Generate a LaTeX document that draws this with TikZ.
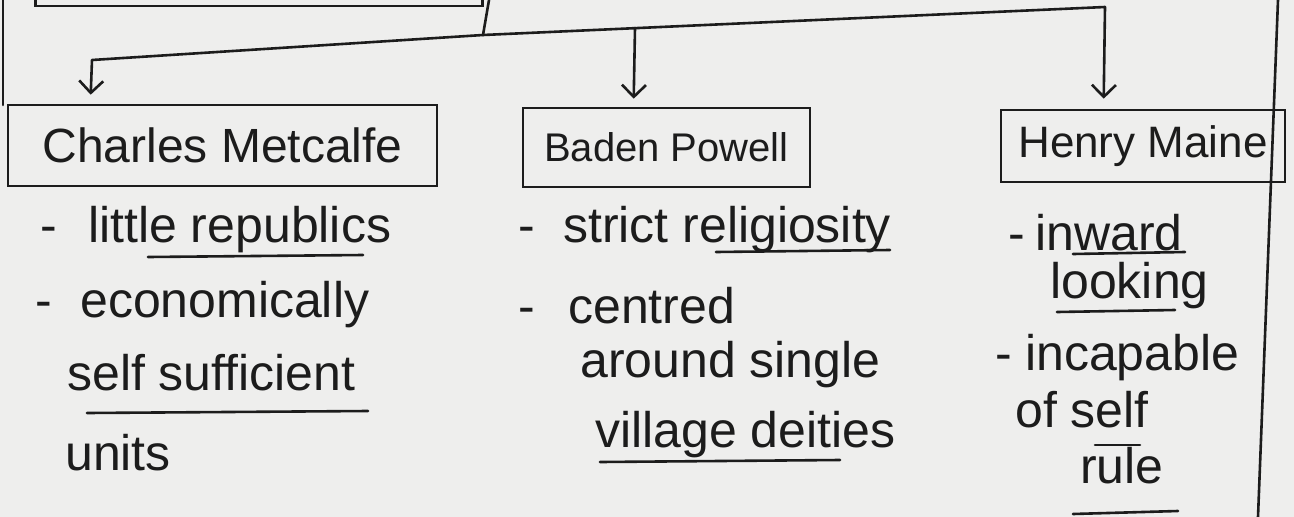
\documentclass[tikz,border=0pt]{standalone}
\usepackage{fontspec}
\setmainfont{Liberation Sans}
\usetikzlibrary{arrows.meta,calc}
\definecolor{paper}{RGB}{238,238,237}
\definecolor{ink}{RGB}{28,28,28}
\begin{document}
\begin{tikzpicture}[x=1pt,y=-1pt,
  box/.style={draw=ink, line width=2.6pt, inner sep=0pt, text=ink},
  txt/.style={anchor=base west, inner sep=0pt, text=ink, font=\fontsize{50}{60}\selectfont},
  con/.style={draw=ink, line width=2.6pt, line join=round, line cap=round},
  arr/.style={con, -{Straight Barb[length=12pt,width=24pt]}},
  uline/.style={draw=ink, line width=2.6pt, line cap=round}]
\useasboundingbox (0,0) rectangle (1294,517);
\clip (0,0) rectangle (1294,517);
\fill[paper] (0,0) rectangle (1294,517);

% page edges
\draw[con] (3,0) -- (3,105);
\draw[con] (1278,0) -- (1258,517);

% boxes
\node[box, minimum width=447pt, minimum height=100pt] (topbox) at (259,-44) {};
\node[box, minimum width=429pt, minimum height=81pt, font=\fontsize{48}{58}\selectfont] (charles) at (222.5,145.5) {Charles Metcalfe};
\node[box, minimum width=287pt, minimum height=79pt, font=\fontsize{40}{48}\selectfont] (baden) at (666.5,147.5) {Baden Powell};
\node[box, minimum width=284pt, minimum height=72pt, font=\fontsize{44}{53}\selectfont] (henry) at (1143,146) {Henry Maine};

% connectors
\coordinate (src) at (489,0);
\coordinate (j) at (483,35);
\coordinate (m) at (635,28);
\draw[con] (src) -- (j);
\draw[arr] (j) -- (92,60) -- ($(charles.north west)+(84,-9)$);
\draw[arr] (m) -- ($(baden.north west)+(112,-8)$);
\draw[arr] (j) -- (1105,7) -- ($(henry.north west)+(104,-10)$);

% Charles Metcalfe
\node[txt] (c1d) at (40,242) {-};
\node[txt] (c1) at (88,242) {little republics};
\node[txt] (c2d) at (35,317) {-};
\node[txt] (c2) at (80,317) {economically};
\node[txt] (c3) at (67,390) {self sufficient};
\node[txt] (c4) at (65,470) {units};

% Baden Powell
\node[txt] (b1d) at (518,242) {-};
\node[txt] (b1) at (563,242) {strict religiosity};
\node[txt] (b2d) at (518,323) {-};
\node[txt] (b2) at (568,323) {centred};
\node[txt] (b3) at (580,377) {around single};
\node[txt] (b4) at (595,447) {village deities};

% Henry Maine
\node[txt] (h1d) at (1008,250) {-};
\node[txt] (h1) at (1035,250) {inward};
\node[txt] (h2) at (1050,298) {looking};
\node[txt] (h3d) at (995,370) {-};
\node[txt] (h3) at (1025,370) {incapable};
\node[txt] (h4) at (1015,427) {of self};
\node[txt] (h5) at (1080,483) {rule};

% underlines
\draw[uline] (148,257) -- (363,255);
\draw[uline] (87,413) -- (368,411);
\draw[uline] (716,252) -- (890,250);
\draw[uline] (600,462) -- (840,460);
\draw[uline] (1073,254) -- (1185,252);
\draw[uline] (1057,312) -- (1175,310);
\draw[uline] (1095,445) -- (1140,445);
\draw[uline] (1073,514) -- (1178,511);
\end{tikzpicture}
\end{document}
